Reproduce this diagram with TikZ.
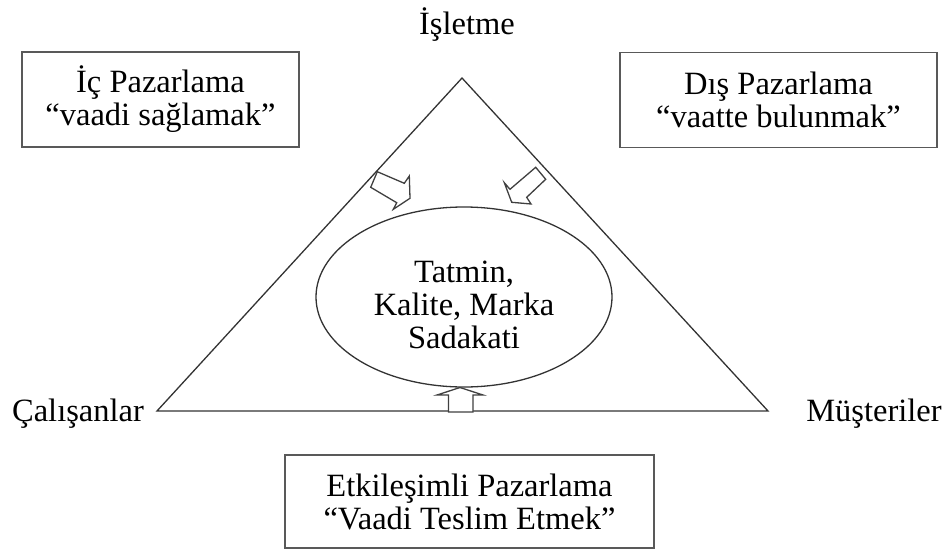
\documentclass[tikz,border=0pt]{standalone}
\usepackage{fontspec}
\setmainfont{Liberation Serif}
\usetikzlibrary{shapes.geometric}
\begin{document}
\begin{tikzpicture}[x=1pt,y=-1pt,
  txt/.style={font=\fontsize{32.5}{33}\selectfont, align=center, inner sep=0pt, text=black},
  framebox/.style={draw=black!65, line width=1.6pt, minimum width=#1, minimum height=95pt, inner sep=0pt},
  edge/.style={draw=black!80, line width=1.3pt},
  blockarrow/.style={draw=black!75, line width=1.3pt, fill=white, line join=miter}]
  \useasboundingbox (0,0) rectangle (942,551);

  % triangle
  \coordinate (top) at (462,78);
  \coordinate (bl) at (157,411);
  \coordinate (br) at (768,411);
  \draw[edge, line join=miter] (top) -- (bl) -- (br) -- cycle;

  % central ellipse
  \node[ellipse, edge, minimum width=296pt, minimum height=180pt, inner sep=0pt] (core) at (464,297) {};
  \node[txt] (coretext) at (464,305) {Tatmin,\\Kalite, Marka\\Sadakati};

  % corner labels
  \node[txt] (firm) at (467,25) {İşletme};
  \node[txt] (staff) at (78,414) {Çalışanlar};
  \node[txt] (cust) at (874,414) {Müşteriler};

  % marketing boxes
  \node[framebox=277pt, txt] (internal) at (160.5,99.5) {İç Pazarlama\\“vaadi sağlamak”};
  \node[framebox=317pt, txt] (external) at (778.5,100) {Dış Pazarlama\\“vaatte bulunmak”};
  \node[framebox=369pt, minimum height=93pt, txt] (interactive) at (469.5,501.5) {Etkileşimli Pazarlama\\“Vaadi Teslim Etmek”};

  % block arrows into the ellipse
  \draw[blockarrow] (377.3,171.7) -- (404.3,183.3) -- (409.3,176) -- (410,198.3)
    -- (393.3,209.3) -- (396.7,202.7) -- (370.7,187.3) -- cycle;
  \draw[blockarrow] (535.7,167.3) -- (545.7,179.3) -- (526.7,197.3) -- (531,204)
    -- (511.7,202.3) -- (504.3,182.7) -- (510,189.3) -- cycle;
  \draw[blockarrow] (448.5,412) -- (448.5,395) -- (437,395) -- (460,387.5)
    -- (483,395) -- (473,395) -- (473,412) -- cycle;
\end{tikzpicture}
\end{document}
